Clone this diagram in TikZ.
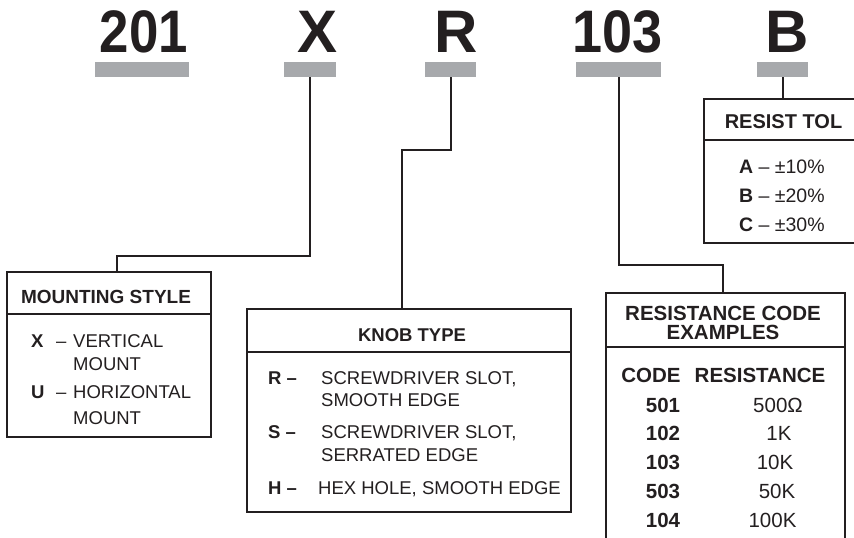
\documentclass[tikz,border=0pt]{standalone}
\usepackage{fontspec}
\setmainfont{Liberation Sans}
\usepackage{graphicx}
\definecolor{ink}{HTML}{231F20}
\definecolor{bargray}{HTML}{A7A9AC}
\begin{document}
\begin{tikzpicture}[x=1pt,y=-1pt,
  big/.style={font=\fontsize{60}{60}\selectfont\bfseries, text=ink, anchor=base, inner sep=0pt},
  bar/.style={fill=bargray, draw=none, inner sep=0pt, outer sep=0pt, minimum height=15pt},
  box/.style={draw=ink, line width=2.2pt, inner sep=0pt, outer sep=0pt},
  sep/.style={draw=ink, line width=2pt},
  conn/.style={draw=ink, line width=2pt},
  hd/.style={font=\fontsize{19}{22}\selectfont\bfseries, text=ink, anchor=base, inner sep=0pt},
  bd/.style={font=\fontsize{18.5}{22}\selectfont, text=ink, anchor=base west, inner sep=0pt},
  bdb/.style={font=\fontsize{18.5}{22}\selectfont\bfseries, text=ink, anchor=base west, inner sep=0pt},
  rc/.style={font=\fontsize{20.5}{22}\selectfont, text=ink, anchor=base, inner sep=0pt},
  rcb/.style={font=\fontsize{20.5}{22}\selectfont\bfseries, text=ink, anchor=base, inner sep=0pt},
  tl/.style={font=\fontsize{19.5}{22}\selectfont, text=ink, anchor=base west, inner sep=0pt}
]
\useasboundingbox (0,0) rectangle (854,538);
\clip (0,0) rectangle (854,538);

% big code letters
\node[big] (t201) at (144,52) {\scalebox{0.88}[1]{201}};
\node[big] (tX) at (317.5,52) {X};
\node[big] (tR) at (456.5,52) {R};
\node[big] (t103) at (617.5,52) {\scalebox{0.9}[1]{103}};
\node[big] (tB) at (787.5,52) {B};

% gray bars
\node[bar, minimum width=94pt] (b201) at (142,69.5) {};
\node[bar, minimum width=52pt] (bX) at (310,69.5) {};
\node[bar, minimum width=51pt] (bR) at (450.5,69.5) {};
\node[bar, minimum width=85pt] (b103) at (618.5,69.5) {};
\node[bar, minimum width=51pt] (bB) at (782.5,69.5) {};

% boxes
\node[box, minimum width=204pt, minimum height=165pt] (ms) at (109,354.5) {};
\node[box, minimum width=324pt, minimum height=203pt] (kt) at (409,410.5) {};
\node[box, minimum width=239pt, minimum height=260pt] (rc) at (725.5,423) {};
\node[box, minimum width=158pt, minimum height=144pt] (tol) at (783,171) {};

% separators
\draw[sep] (7,314) -- (211,314);
\draw[sep] (247,352) -- (571,352);
\draw[sep] (606,347) -- (845,347);
\draw[sep] (704,140) -- (862,140);

% connectors
\coordinate (jX) at (117,256);
\draw[conn] (bX.south) |- (jX) -- (jX |- ms.north);
\coordinate (jR) at (402,150);
\draw[conn] (bR.south) |- (jR) -- (jR |- kt.north);
\coordinate (j103) at (723,265);
\draw[conn] (b103.south) |- (j103) -- (j103 |- rc.north);
\draw[conn] (bB.south) -- (bB.south |- tol.north);

% mounting style
\node[hd] (msh) at (106,303) {MOUNTING STYLE};
\node[bdb] (msx) at (31,347) {X};
\node[bd] (msxd) at (56,347) {–};
\node[bd] (msx1) at (73,347) {VERTICAL};
\node[bd] (msx2) at (73,370) {MOUNT};
\node[bdb] (msu) at (31,398) {U};
\node[bd] (msud) at (56,398) {–};
\node[bd] (msu1) at (73,398) {HORIZONTAL};
\node[bd] (msu2) at (73,424) {MOUNT};

% knob type
\node[hd, font=\fontsize{18.5}{22}\selectfont\bfseries] (kth) at (412,341.5) {KNOB TYPE};
\node[bdb] (ktr) at (268,384.5) {R –};
\node[bd] (ktr1) at (321,384.5) {SCREWDRIVER SLOT,};
\node[bd] (ktr2) at (321,406.5) {SMOOTH EDGE};
\node[bdb] (kts) at (268,438.5) {S –};
\node[bd] (kts1) at (321,438.5) {SCREWDRIVER SLOT,};
\node[bd] (kts2) at (321,461.5) {SERRATED EDGE};
\node[bdb] (kth2) at (268,494.5) {H –};
\node[bd] (kth1) at (318,494.5) {HEX HOLE, SMOOTH EDGE};

% resistance code
\node[rcb] (rch1) at (723,320) {RESISTANCE CODE};
\node[rcb] (rch2) at (723,339.5) {EXAMPLES};
\node[rcb] (rccode) at (651,382) {CODE};
\node[rcb] (rcres) at (760,382) {RESISTANCE};
\node[rcb] (c1) at (663,412) {501};
\node[rc] (v1) at (778,412) {500Ω};
\node[rcb] (c2) at (663,440) {102};
\node[rc] (v2) at (779,440) {1K};
\node[rcb] (c3) at (663,469) {103};
\node[rc] (v3) at (775,469) {10K};
\node[rcb] (c4) at (663,498) {503};
\node[rc] (v4) at (777,498) {50K};
\node[rcb] (c5) at (663,527) {104};
\node[rc] (v5) at (772.5,527) {100K};

% resist tol
\node[hd, font=\fontsize{20}{22}\selectfont\bfseries] (tolh) at (783.5,128) {RESIST TOL};
\node[tl] (tola) at (739,173) {\textbf{A} – ±10\%};
\node[tl] (tolb) at (739,202) {\textbf{B} – ±20\%};
\node[tl] (tolc) at (739,231) {\textbf{C} – ±30\%};
\end{tikzpicture}
\end{document}
